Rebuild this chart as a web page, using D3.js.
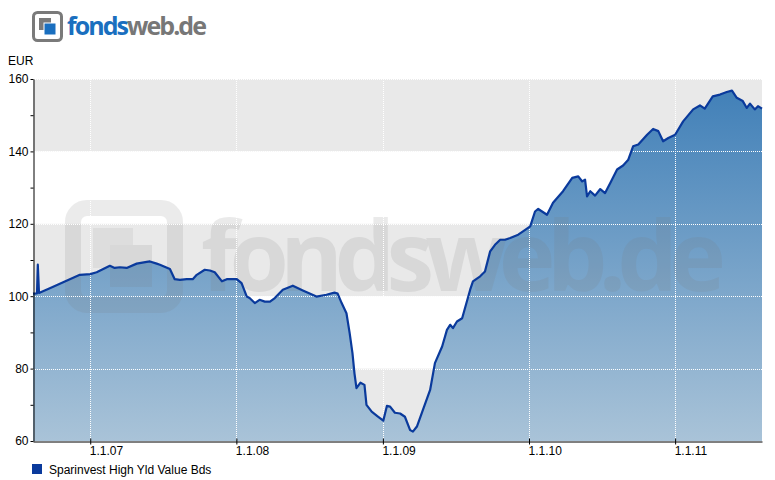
<!DOCTYPE html>
<html>
<head>
<meta charset="utf-8">
<script src="https://cdn.jsdelivr.net/npm/d3@7"></script>
<style>
  body { margin: 0; background: #fff; }
  svg { display: block; }
</style>
</head>
<body>
<script>

// Fund price series
var seriesName = "Sparinvest High Yld Value Bds";
var dates = [
  "2006-08-11","2006-08-21","2006-08-23","2006-08-26","2006-09-22","2006-10-24","2006-12-06",
  "2007-01-01","2007-01-17","2007-02-19","2007-03-03","2007-03-16","2007-04-02","2007-04-27",
  "2007-05-22","2007-05-30","2007-06-16","2007-06-24","2007-07-19","2007-07-31","2007-08-13",
  "2007-08-30","2007-09-14","2007-09-24","2007-10-14","2007-10-27","2007-11-08","2007-11-26",
  "2007-12-08","2008-01-02","2008-01-14","2008-01-27","2008-02-03","2008-02-16","2008-02-28",
  "2008-03-12","2008-03-25","2008-04-06","2008-04-26","2008-05-21","2008-06-15","2008-07-19",
  "2008-08-13","2008-09-02","2008-09-10","2008-09-20","2008-10-02","2008-10-10","2008-10-17",
  "2008-10-22","2008-10-27","2008-11-06","2008-11-16","2008-11-21","2008-12-04","2008-12-18",
  "2009-01-02","2009-01-11","2009-01-19","2009-01-31","2009-02-13","2009-02-25","2009-03-10",
  "2009-03-17","2009-03-27","2009-04-11","2009-04-29","2009-05-11","2009-05-29","2009-06-10",
  "2009-06-18","2009-06-25","2009-07-05","2009-07-18","2009-08-07","2009-08-14","2009-09-01",
  "2009-09-13","2009-09-26","2009-10-08","2009-10-21","2009-11-02","2009-11-15","2009-12-05",
  "2009-12-17","2010-01-04","2010-01-16","2010-01-24","2010-02-15","2010-03-02","2010-03-27",
  "2010-04-19","2010-05-04","2010-05-14","2010-05-21","2010-05-26","2010-06-03","2010-06-15",
  "2010-06-28","2010-07-10","2010-07-23","2010-08-09","2010-08-24","2010-09-06","2010-09-18",
  "2010-10-01","2010-10-23","2010-11-07","2010-11-20","2010-12-02","2010-12-15","2011-01-01",
  "2011-01-21","2011-02-15","2011-03-04","2011-03-16","2011-04-05","2011-04-23","2011-05-10",
  "2011-05-23","2011-06-04","2011-06-19","2011-06-29","2011-07-07","2011-07-19","2011-07-27",
  "2011-08-06"
];
var prices = [
  100.7,100.8,108.7,100.9,102.2,103.8,105.9,
  106.1,106.6,108.4,107.8,108.0,107.8,109.0,
  109.5,109.6,109.0,108.7,107.5,104.7,104.5,
  104.7,104.7,105.9,107.3,107.1,106.6,104.1,
  104.7,104.7,103.6,99.9,99.5,98.1,99.0,
  98.5,98.5,99.5,101.8,102.9,101.6,99.9,
  100.4,101.0,100.7,98.1,95.3,89.8,84.3,
  78.7,74.6,76.1,75.5,70.0,68.1,66.9,
  65.6,69.7,69.5,67.8,67.6,66.7,63.0,
  62.6,64.0,68.6,74.1,81.5,86.1,90.7,
  92.1,91.2,93.0,93.9,101.8,104.1,105.5,
  106.8,112.4,114.2,115.6,115.6,116.1,117.0,
  117.9,119.3,123.4,124.1,122.5,125.8,129.0,
  132.7,133.1,131.7,132.2,127.6,129.0,127.8,
  129.6,128.5,131.3,135.0,136.1,137.7,141.4,
  141.9,144.6,146.2,145.6,142.8,143.7,144.6,
  148.3,151.6,152.7,151.8,155.2,155.7,156.4,
  156.8,154.8,153.9,152.0,153.2,151.6,152.5,
  151.8
];
var xTickDates = ["2007-01-01","2008-01-01","2009-01-01","2010-01-01","2011-01-01"];
var yMajorTicks = [60, 80, 100, 120, 140, 160];
var yMinorTicks = [70, 90, 110, 130, 150];
var bands = [[140, 160], [100, 120], [60, 80]];

var width = 775, height = 480;
var margin = {left: 33, top: 79, right: 13, bottom: 39};
var plot_width = width - margin.left - margin.right;
var plot_height = height - margin.top - margin.bottom;
var parseDate = d3.timeParse("%Y-%m-%d");
var fmtTick = d3.timeFormat("1.1.%y");

var data = dates.map(function(d, i) { return {date: parseDate(d), value: prices[i]}; });

var svg = d3.select("body").append("svg")
            .attr("width", width)
            .attr("height", height)
            .style("font-family", "Arial, 'Liberation Sans', sans-serif");

// Scales
var xScale = d3.scaleTime()
               .domain([parseDate("2006-08-11"), parseDate("2011-08-06")])
               .range([0, plot_width]);
var yScale = d3.scaleLinear()
               .domain([60, 160])
               .range([plot_height, 0]);

// Gradient for the area
var defs = svg.append("defs");
var grad = defs.append("linearGradient")
               .attr("id", "areaGrad")
               .attr("gradientUnits", "userSpaceOnUse")
               .attr("x1", 0).attr("y1", yScale(160))
               .attr("x2", 0).attr("y2", yScale(60));
grad.append("stop").attr("offset", "0%").attr("stop-color", "#3e7eb7");
grad.append("stop").attr("offset", "50%").attr("stop-color", "#74a1c8");
grad.append("stop").attr("offset", "100%").attr("stop-color", "#a9c3d8");

// Logo
var logo = svg.append("g").attr("transform", "translate(32,11)");
logo.append("rect").attr("x", 1.5).attr("y", 1.5).attr("width", 28).attr("height", 28)
    .attr("rx", 4).style("fill", "none").style("stroke", "#7a7a7a").style("stroke-width", 3);
logo.append("rect").attr("x", 7).attr("y", 7).attr("width", 12).attr("height", 12)
    .style("fill", "#7a7a7a");
logo.append("rect").attr("x", 12).attr("y", 12).attr("width", 12).attr("height", 12)
    .style("fill", "#1a6fbf").style("stroke", "#fff").style("stroke-width", 1);
var logoText = svg.append("text")
                  .attr("x", 67).attr("y", 35)
                  .attr("textLength", 140)
                  .style("font-family", "'Open Sans', 'DejaVu Sans', sans-serif")
                  .style("font-weight", "bold")
                  .style("font-size", "25px");
logoText.append("tspan").style("fill", "#1a6fbf").text("fonds");
logoText.append("tspan").style("fill", "#777777").text("web.de");

// Chart group
var chartGroup = svg.append("g")
                    .attr("transform", "translate(" + margin.left + "," + margin.top + ")");

// background bands
chartGroup.append("rect").attr("width", plot_width).attr("height", plot_height).style("fill", "#ffffff");
chartGroup.selectAll(".band")
          .data(bands)
          .enter().append("rect")
          .attr("class", "band")
          .attr("x", 0)
          .attr("y", function(d) { return yScale(d[1]); })
          .attr("width", plot_width)
          .attr("height", function(d) { return yScale(d[0]) - yScale(d[1]); })
          .style("fill", "#e9e9e9");

// Area + line
var area = d3.area()
             .x(function(d) { return xScale(d.date); })
             .y0(plot_height)
             .y1(function(d) { return yScale(d.value); });
var line = d3.line()
             .x(function(d) { return xScale(d.date); })
             .y(function(d) { return yScale(d.value); });

chartGroup.append("path").datum(data).attr("d", area).style("fill", "url(#areaGrad)");

// Watermark
var wm = chartGroup.append("g").attr("transform", "translate(32,121)").style("opacity", 0.14);
wm.append("rect").attr("x", 8).attr("y", 8).attr("width", 102).attr("height", 97)
  .attr("rx", 14).style("fill", "none").style("stroke", "#7a7a7a").style("stroke-width", 16);
wm.append("rect").attr("x", 28).attr("y", 28).attr("width", 40).attr("height", 40).style("fill", "#9a9a9a");
wm.append("rect").attr("x", 45).attr("y", 45).attr("width", 42).attr("height", 42).style("fill", "#7a7a7a");
chartGroup.append("text")
          .attr("x", 168).attr("y", 212)
          .attr("textLength", 525)
          .style("font-family", "'Open Sans', 'DejaVu Sans', sans-serif")
          .style("font-weight", "bold")
          .style("font-size", "96px")
          .style("fill", "#7a7a7a")
          .style("opacity", 0.15)
          .text("fondsweb.de");

// Grid lines (dotted white)
chartGroup.selectAll(".hgrid")
          .data(yMajorTicks.slice(1))
          .enter().append("line")
          .attr("class", "hgrid")
          .attr("x1", 0).attr("x2", plot_width)
          .attr("y1", function(d) { return Math.round(yScale(d)) + 0.5; })
          .attr("y2", function(d) { return Math.round(yScale(d)) + 0.5; })
          .style("stroke", "#ffffff").style("stroke-dasharray", "1,1");
chartGroup.selectAll(".vgrid")
          .data(xTickDates.map(parseDate))
          .enter().append("line")
          .attr("class", "vgrid")
          .attr("x1", function(d) { return Math.round(xScale(d)) + 0.5; })
          .attr("x2", function(d) { return Math.round(xScale(d)) + 0.5; })
          .attr("y1", 0).attr("y2", plot_height)
          .style("stroke", "#ffffff").style("stroke-dasharray", "1,1");

chartGroup.append("path").datum(data).attr("d", line)
          .style("fill", "none").style("stroke", "#0a3a9c").style("stroke-width", 2.2)
          .style("stroke-linejoin", "round");

// Axes
var xAxis = d3.axisBottom(xScale)
              .tickValues(xTickDates.map(parseDate))
              .tickFormat(fmtTick)
              .tickSizeInner(3).tickSizeOuter(0);
var yAxis = d3.axisLeft(yScale)
              .tickValues(yMajorTicks)
              .tickSizeInner(3).tickSizeOuter(0);
var yMinor = d3.axisLeft(yScale)
               .tickValues(yMinorTicks)
               .tickFormat("")
               .tickSizeInner(3).tickSizeOuter(0);

var gx = chartGroup.append("g")
                   .attr("transform", "translate(0," + (plot_height + 0.5) + ")")
                   .call(xAxis);
gx.selectAll(".tick line").attr("y1", -3).attr("y2", 3);
gx.selectAll(".tick text")
  .attr("text-anchor", "start")
  .attr("y", 5)
  .attr("dx", -1)
  .style("font-size", "12px")
  .style("font-family", "Arial, 'Liberation Sans', sans-serif")
  .style("fill", "#000");

var gy = chartGroup.append("g").attr("transform", "translate(0.5,0)").call(yAxis);
gy.selectAll(".tick text").attr("x", -5)
  .style("font-size", "12px")
  .style("font-family", "Arial, 'Liberation Sans', sans-serif")
  .style("fill", "#000");
chartGroup.append("g").attr("transform", "translate(0.5,0)").call(yMinor)
          .select(".domain").remove();
chartGroup.selectAll(".domain").style("stroke", "#000");

// Unit label
svg.append("text").attr("x", 8).attr("y", 65)
   .style("font-size", "12px").text("EUR");

// Legend
svg.append("rect").attr("x", 32).attr("y", 464).attr("width", 10).attr("height", 10)
   .style("fill", "#0a3a9c");
svg.append("text").attr("x", 49).attr("y", 474)
   .style("font-size", "12px").text(seriesName);

</script>
</body>
</html>
